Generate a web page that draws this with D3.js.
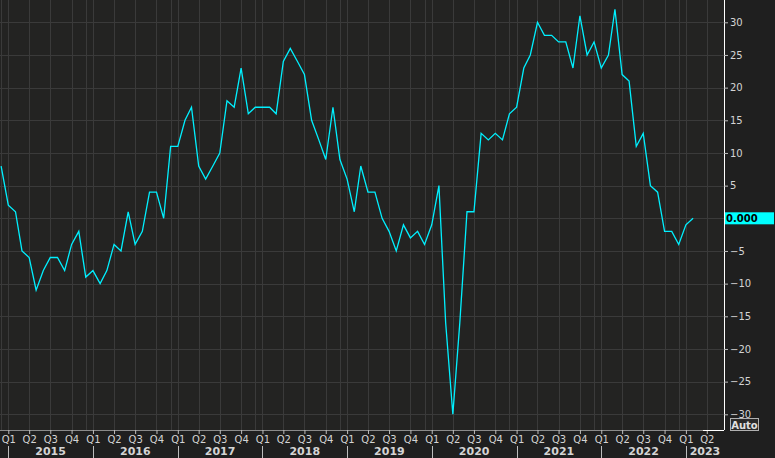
<!DOCTYPE html>
<html><head><meta charset="utf-8">
<script src="https://cdn.jsdelivr.net/npm/d3@7"></script>
<style>html,body{margin:0;padding:0;background:#1f1f1f;overflow:hidden}</style>
</head><body><svg id="c" width="775" height="458"></svg>
<script>
// Monthly values, first point Dec 2014, last Feb 2023
const firstMonth = [2014, 11];
const values2014 = [8];
const values2015 = [2, 1, -5, -6, -11, -8, -6, -6, -8, -4, -2, -9];
const values2016 = [-8, -10, -8, -4, -5, 1, -4, -2, 4, 4, 0, 11];
const values2017 = [11, 15, 17, 8, 6, 8, 10, 18, 17, 23, 16, 17];
const values2018 = [17, 17, 16, 24, 26, 24, 22, 15, 12, 9, 17, 9];
const values2019 = [6, 1, 8, 4, 4, 0, -2, -5, -1, -3, -2, -4];
const values2020 = [-1, 5, -16, -30, -16, 1, 1, 13, 12, 13, 12, 16];
const values2021 = [17, 23, 25, 30, 28, 28, 27, 27, 23, 31, 25, 27];
const values2022 = [23, 25, 32, 22, 21, 11, 13, 5, 4, -2, -2, -4];
const values2023 = [-1, 0];
const yTicks = [30, 25, 20, 15, 10, 5, -5, -10, -15, -20, -25, -30];
const years = [2015, 2016, 2017, 2018, 2019, 2020, 2021, 2022, 2023];
const lastLabel = "0.000";

const values = [].concat(values2014, values2015, values2016, values2017, values2018,
  values2019, values2020, values2021, values2022, values2023);
const data = values.map((v, i) => ({date: new Date(Date.UTC(firstMonth[0], firstMonth[1] + i, 1)), v}));

const W = 775, H = 458, plotR = 724, plotB = 430;
const svg = d3.select("#c");
svg.append("rect").attr("width", W).attr("height", H).attr("fill", "#1f1f1f");
svg.append("rect").attr("width", plotR).attr("height", plotB).attr("fill", "#232322");

const x = d3.scaleUtc().domain([new Date(Date.UTC(2015,0,1)), new Date(Date.UTC(2023,0,1))]).range([8.3, 685.9]);
const y = d3.scaleLinear().domain([-30, 30]).range([414.3, 22.3]);

const quarters = d3.utcMonth.every(3).range(new Date(Date.UTC(2015,0,1)), new Date(Date.UTC(2023,4,1)));
const decs = years.map(yr => new Date(Date.UTC(yr - 1, 11, 1)));

const grid = svg.append("g").attr("shape-rendering", "crispEdges").attr("stroke", "#3a3a3a").attr("stroke-width", 1);
grid.selectAll("line.h").data(yTicks.concat([0])).join("line")
  .attr("x1", 0).attr("x2", plotR).attr("y1", d => Math.round(y(d)) + 0.5).attr("y2", d => Math.round(y(d)) + 0.5);
grid.selectAll("line.v").data(quarters.concat(decs)).join("line")
  .attr("y1", 0).attr("y2", plotB).attr("x1", d => Math.round(x(d)) + 0.5).attr("x2", d => Math.round(x(d)) + 0.5);

svg.append("defs").append("clipPath").attr("id", "clip").append("rect").attr("width", plotR).attr("height", plotB);
const line = d3.line().x(d => x(d.date)).y(d => y(d.v));
svg.append("path").datum(data).attr("clip-path", "url(#clip)")
  .attr("d", line).attr("fill", "none").attr("stroke", "#00f0ff").attr("stroke-width", 1.3);

// bottom axis
const xAxis = d3.axisBottom(x).tickValues(quarters).tickSize(4).tickPadding(2)
  .tickFormat(d => "Q" + (Math.floor(d.getUTCMonth() / 3) + 1));
const gx = svg.append("g").attr("transform", `translate(0,${plotB})`).call(xAxis);
gx.select(".domain").attr("stroke", "#8a8a8a").attr("d", `M0,0.5H${plotR}`);
gx.selectAll(".tick line").attr("stroke", "#bdbdbd");
gx.selectAll(".tick text").attr("fill", "#d4d4d4").attr("font-family", "DejaVu Sans").attr("font-size", 10);
svg.append("line").attr("x1", 703).attr("x2", plotR).attr("y1", plotB + 0.5).attr("y2", plotB + 0.5).attr("stroke", "#ffffff");

// year separators and labels
const yearG = svg.append("g");
yearG.selectAll("line").data(years).join("line")
  .attr("x1", d => Math.round(x(new Date(Date.UTC(d,0,1)))) + 0.5)
  .attr("x2", d => Math.round(x(new Date(Date.UTC(d,0,1)))) + 0.5)
  .attr("y1", 446).attr("y2", 458).attr("stroke", "#bdbdbd");
yearG.selectAll("text").data(years).join("text")
  .attr("x", d => {
    const a = x(new Date(Date.UTC(d,0,1))), b = Math.min(x(new Date(Date.UTC(d+1,0,1))), plotR);
    return (a + b) / 2;
  })
  .attr("y", 455).attr("text-anchor", "middle").attr("fill", "#d4d4d4")
  .attr("font-family", "DejaVu Sans").attr("font-weight", "bold").attr("font-size", 11)
  .text(d => d);

// right axis
const yAxis = d3.axisRight(y).tickValues(yTicks).tickSize(4).tickPadding(2);
const gy = svg.append("g").attr("transform", `translate(${plotR},0)`).call(yAxis);
gy.select(".domain").attr("stroke", "#ffffff").attr("d", `M0.5,0V${plotB}`);
gy.selectAll(".tick line").attr("stroke", "#bdbdbd");
gy.selectAll(".tick text").attr("fill", "#d4d4d4").attr("font-family", "DejaVu Sans").attr("font-size", 10);

// last value box
const yl = y(values[values.length - 1]);
svg.append("rect").attr("x", plotR + 1).attr("y", yl - 6).attr("width", 49).attr("height", 12).attr("fill", "#00ffff");
svg.append("text").attr("x", plotR + 2).attr("y", yl + 4).attr("fill", "#000")
  .attr("font-family", "DejaVu Sans").attr("font-weight", "bold").attr("font-size", 10).text(lastLabel);

// Auto box
svg.append("rect").attr("x", 730.5).attr("y", 418.5).attr("width", 28).attr("height", 12)
  .attr("fill", "#2a2a2a").attr("stroke", "#b0b0b0");
svg.append("text").attr("x", 744.5).attr("y", 428.5).attr("text-anchor", "middle").attr("fill", "#e0e0e0")
  .attr("font-family", "DejaVu Sans").attr("font-weight", "bold").attr("font-size", 10).text("Auto");
</script></body></html>
